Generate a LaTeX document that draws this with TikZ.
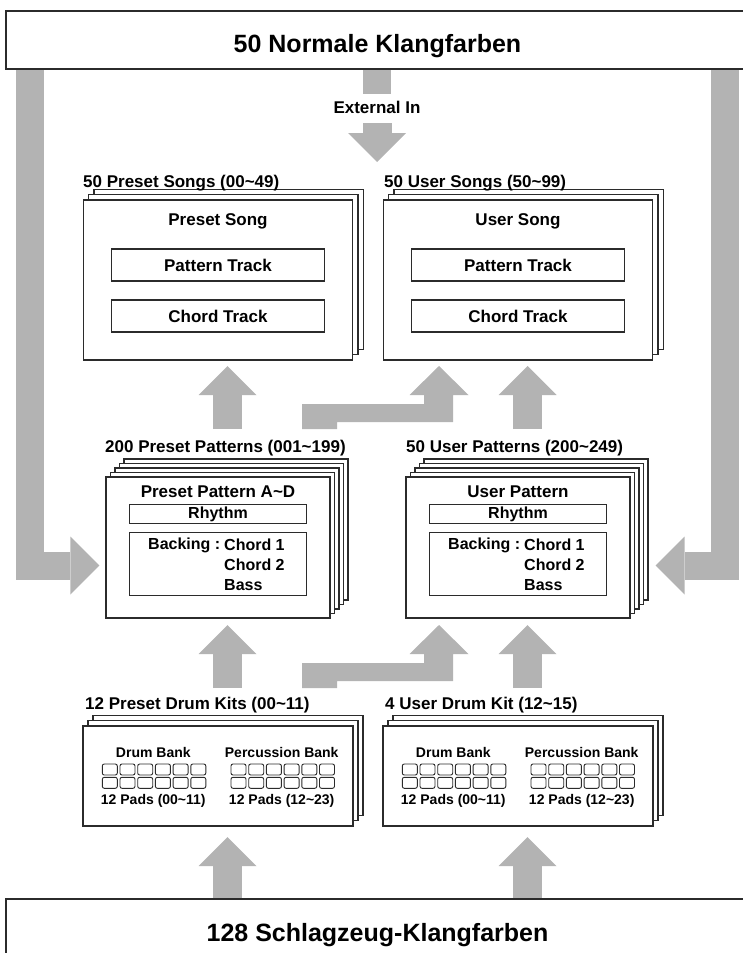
\documentclass[tikz,border=0pt]{standalone}
\usepackage{fontspec}
\setmainfont{Liberation Sans}
\usetikzlibrary{arrows.meta}

\definecolor{arrowgray}{HTML}{B3B3B3}
\definecolor{linegray}{HTML}{2B2B2B}

\tikzset{
  box/.style={draw=linegray, line width=1.2pt, fill=white, inner sep=0pt},
  sheet/.style={draw=linegray, line width=1.2pt, fill=white},
  mainbox/.style={box, minimum width=743pt, minimum height=58pt, text height=24pt, text depth=0pt,
    font=\fontsize{25}{30}\selectfont\bfseries},
  trackbox/.style={box, minimum width=212.6pt, minimum height=32pt, font=\fontsize{17}{20}\selectfont\bfseries},
  rhythmbox/.style={box, minimum width=177.4pt, minimum height=19pt, font=\fontsize{16}{19}\selectfont\bfseries},
  stacktitle/.style={inner sep=0pt, anchor=west, font=\fontsize{17}{20}\selectfont\bfseries},
  boldtext/.style={inner sep=0pt, font=\fontsize{17}{20}\selectfont\bfseries},
  smalltext/.style={inner sep=0pt, anchor=west, font=\fontsize{16}{19}\selectfont\bfseries},
  banktext/.style={inner sep=0pt, font=\fontsize{14}{17}\selectfont\bfseries},
  pad/.style={draw=linegray, line width=0.9pt, rounded corners=2pt},
  fatarrow/.style={draw=arrowgray, line width=29pt, -{Triangle[width=58pt, length=29pt, line width=0pt]}},
  stub/.style={draw=arrowgray, line width=28pt},
}

\begin{document}
\begin{tikzpicture}[x=1pt, y=-1pt]
  \useasboundingbox (0,0) rectangle (742,953);

  % voices to patterns (left and right)
  \coordinate (lbar) at (30,69);
  \coordinate (ltip) at (99.3,565.5);
  \coordinate (rbar) at (725,69);
  \coordinate (rtip) at (655.7,565.5);
  \draw[fatarrow, line width=28pt] (lbar) |- (ltip);
  \draw[fatarrow, line width=28pt] (rbar) |- (rtip);

  % External In
  \coordinate (ext1) at (377,69);
  \coordinate (ext2) at (377,94);
  \coordinate (ext3) at (377,123);
  \coordinate (ext4) at (377,162);
  \draw[stub] (ext1) -- (ext2);
  \node[boldtext] (extin) at (377,107) {External In};
  \draw[fatarrow] (ext3) -- (ext4);

  % patterns to songs
  \coordinate (ps1) at (227.5,429);
  \coordinate (ps2) at (227.5,366);
  \coordinate (ps3) at (527.5,429);
  \coordinate (ps4) at (527.5,366);
  \coordinate (psbend) at (302,429);
  \draw[fatarrow] (ps1) -- (ps2);
  \draw[fatarrow] (ps3) -- (ps4);
  \fill[arrowgray] (psbend) -- ++(0,-25) -- ++(122,0) -- ++(0,-9) -- ++(-14.5,0) -- ++(29.5,-29)
    -- ++(29.5,29) -- ++(-15.5,0) -- ++(0,27) -- ++(-116,0) -- ++(0,7) -- cycle;

  % kits to patterns
  \coordinate (kp1) at (227.5,688);
  \coordinate (kp2) at (227.5,625);
  \coordinate (kp3) at (527.5,688);
  \coordinate (kp4) at (527.5,625);
  \coordinate (kpbend) at (302,688);
  \draw[fatarrow] (kp1) -- (kp2);
  \draw[fatarrow] (kp3) -- (kp4);
  \fill[arrowgray] (kpbend) -- ++(0,-25) -- ++(122,0) -- ++(0,-9) -- ++(-14.5,0) -- ++(29.5,-29)
    -- ++(29.5,29) -- ++(-15.5,0) -- ++(0,27) -- ++(-116,0) -- ++(0,7) -- cycle;

  % drum voices to kits
  \coordinate (dk1) at (227.5,899);
  \coordinate (dk2) at (227.5,837);
  \coordinate (dk3) at (527.5,899);
  \coordinate (dk4) at (527.5,837);
  \draw[fatarrow] (dk1) -- (dk2);
  \draw[fatarrow] (dk3) -- (dk4);

  % sound sources
  \node[mainbox] (normal) at (377.5,40) {50 Normale Klangfarben};
  \node[mainbox, minimum height=60pt] (drums) at (377.5,929) {128 Schlagzeug-Klangfarben};

  % stacked sheets behind the boxes
  \foreach \cx in {218,518}{
    \foreach \i in {2,1}
      \draw[sheet] (\cx-134.7+5.3*\i, 200-5.3*\i) rectangle ++(269.4,160);
    \foreach \i in {4,3,2,1}
      \draw[sheet] (\cx-112+4.5*\i, 477-4.5*\i) rectangle ++(224,141);
    \foreach \i in {2,1}
      \draw[sheet] (\cx-135+5*\i, 726-5.3*\i) rectangle ++(270,100);
  }

  % songs
  \node[stacktitle] (songPtitle) at (83,183) {50 Preset Songs (00\textasciitilde 49)};
  \node[box, minimum width=269.4pt, minimum height=160pt] (songP) at (218,280) {};
  \node[boldtext] (songPname) at (218,221) {Preset Song};
  \node[trackbox] (songPpat) at (218,265) {Pattern Track};
  \node[trackbox] (songPchd) at (218,316) {Chord Track};

  \node[stacktitle] (songUtitle) at (384,183) {50 User Songs (50\textasciitilde 99)};
  \node[box, minimum width=269.4pt, minimum height=160pt] (songU) at (518,280) {};
  \node[boldtext] (songUname) at (518,221) {User Song};
  \node[trackbox] (songUpat) at (518,265) {Pattern Track};
  \node[trackbox] (songUchd) at (518,316) {Chord Track};

  % patterns
  \node[stacktitle] (patPtitle) at (105,448) {200 Preset Patterns (001\textasciitilde 199)};
  \node[box, minimum width=224pt, minimum height=141pt] (patP) at (218,547.5) {};
  \node[boldtext] (patPname) at (218,492) {Preset Pattern A\textasciitilde D};
  \node[rhythmbox] (patPrhy) at (218,514) {Rhythm};
  \node[box, minimum width=177.4pt, minimum height=63.4pt] (patPbck) at (218,564) {};
  \node[smalltext] (patPbl) at (148,545) {Backing :};
  \node[smalltext] (patPc1) at (224,545) {Chord 1};
  \node[smalltext] (patPc2) at (224,565) {Chord 2};
  \node[smalltext] (patPbs) at (224,585) {Bass};

  \node[stacktitle] (patUtitle) at (406,448) {50 User Patterns (200\textasciitilde 249)};
  \node[box, minimum width=224pt, minimum height=141pt] (patU) at (518,547.5) {};
  \node[boldtext] (patUname) at (518,492) {User Pattern};
  \node[rhythmbox] (patUrhy) at (518,514) {Rhythm};
  \node[box, minimum width=177.4pt, minimum height=63.4pt] (patUbck) at (518,564) {};
  \node[smalltext] (patUbl) at (448,545) {Backing :};
  \node[smalltext] (patUc1) at (524,545) {Chord 1};
  \node[smalltext] (patUc2) at (524,565) {Chord 2};
  \node[smalltext] (patUbs) at (524,585) {Bass};

  % drum kits
  \node[stacktitle] (kitPtitle) at (85,705) {12 Preset Drum Kits (00\textasciitilde 11)};
  \node[box, minimum width=270pt, minimum height=100pt] (kitP) at (218,776) {};
  \node[stacktitle] (kitUtitle) at (385,705) {4 User Drum Kit (12\textasciitilde 15)};
  \node[box, minimum width=270pt, minimum height=100pt] (kitU) at (518,776) {};

  \foreach \kx/\k in {0/P,300/U}{
    \node[banktext] (kit\k drum) at (\kx+153.3,752) {Drum Bank};
    \node[banktext] (kit\k perc) at (\kx+281.7,752) {Percussion Bank};
    \node[banktext] (kit\k dpad) at (\kx+153.3,801) {12 Pads (00\textasciitilde 11)};
    \node[banktext] (kit\k ppad) at (\kx+281.7,801) {12 Pads (12\textasciitilde 23)};
    \foreach \bx in {102.3,231}
      \foreach \c in {0,...,5}
        \foreach \r in {0,1}
          \draw[pad] (\kx+\bx+17.7*\c, 764+13.3*\r) rectangle ++(15,11);
  }
\end{tikzpicture}
\end{document}
